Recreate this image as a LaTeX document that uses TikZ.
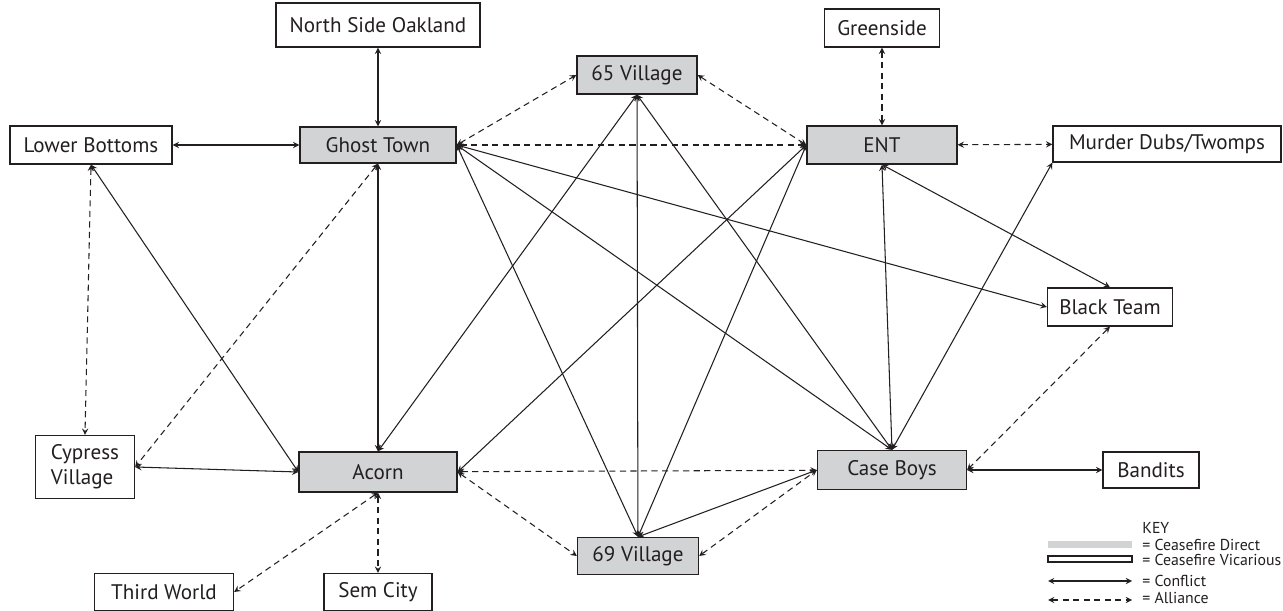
\documentclass[tikz,border=0pt]{standalone}
\usepackage{fontspec}
\setmainfont{PT Sans}
\usetikzlibrary{arrows}
\definecolor{inkblack}{HTML}{231F20}
\definecolor{truceGrey}{HTML}{D1D3D4}
\tikzstyle{gang} = [rectangle,
minimum height=0.76cm,
inner sep=0pt,
text centered,
draw=inkblack,
line width=0.75pt,
fill=white,
text=inkblack,
font=\fontsize{12}{14}\selectfont]
\tikzstyle{truce} = [gang, fill=truceGrey]
\tikzstyle{conflict} = [draw=inkblack, line width=0.6pt, <->, >=stealth]
\tikzstyle{alliance} = [conflict, dash pattern=on 3.5pt off 2.5pt]
\tikzstyle{keytext} = [anchor=west, inner sep=0pt, text=inkblack, font=\fontsize{9}{11}\selectfont]

\begin{document}
\begin{tikzpicture}[node distance=2.4cm]
\useasboundingbox (-7.56,2.9) rectangle (18.1,-9.32);

\node (ghost) [truce, minimum width=3.12cm, minimum height=0.72cm] {Ghost Town};
\node (nso) [gang, above of=ghost, minimum width=4.08cm, minimum height=0.88cm] {North Side Oakland};
\node (lower) [gang, left of=ghost, xshift=-3.34cm, minimum width=3.24cm] {Lower Bottoms};
\node (acorn) [truce, below of=ghost, yshift=-4.14cm, minimum width=3.16cm, minimum height=0.8cm] {Acorn};
\node (cypress) [gang, left of=acorn, xshift=-3.46cm, yshift=0.1cm, minimum width=1.98cm, minimum height=1.26cm, align=left] {Cypress\\Village};
\node (third) [gang, below of=acorn, xshift=-4.28cm, minimum width=2.78cm, minimum height=0.74cm] {Third World};
\node (sem) [gang, below of=acorn, minimum width=2.16cm, minimum height=0.74cm] {Sem City};
\node (v65) [truce, right of=ghost, xshift=2.78cm, yshift=1.4cm, minimum width=2.4cm] {65 Village};
\node (ent) [truce, right of=ghost, xshift=7.68cm, minimum width=3cm] {ENT};
\node (green) [gang, above of=ent, yshift=-0.06cm, minimum width=2.3cm] {Greenside};
\node (murder) [gang, right of=ent, xshift=3.3cm, yshift=0.02cm, minimum width=4.56cm, minimum height=0.72cm] {Murder Dubs/Twomps};
\node (black) [gang, right of=ent, xshift=2.16cm, yshift=-3.24cm, minimum width=2.5cm] {Black Team};
\node (case) [truce, right of=acorn, xshift=7.88cm, yshift=0.04cm, minimum width=2.98cm, minimum height=0.78cm] {Case Boys};
\node (bandits) [gang, right of=case, xshift=2.78cm, minimum width=1.92cm, minimum height=0.72cm] {Bandits};
\node (v69) [truce, right of=acorn, xshift=2.8cm, yshift=-1.68cm, minimum width=2.42cm, minimum height=0.74cm] {69 Village};

% conflict
\draw [conflict] (nso) -- (ghost);
\draw [conflict] (lower) -- (ghost);
\draw [conflict] (lower.south) -- (acorn.west);
\draw [conflict] (ghost) -- (acorn);
\draw [conflict] (cypress.east) -- (acorn.west);
\draw [conflict] (ghost.east) -- (black.west);
\draw [conflict] (ghost.east) -- (case.north);
\draw [conflict] (ghost.east) -- (v69.north);
\draw [conflict] (v65.south) -- (acorn.north);
\draw [conflict] (v65) -- (v69);
\draw [conflict] (v65.south) -- (case.north);
\draw [conflict] (ent.west) -- (acorn.east);
\draw [conflict] (ent.west) -- (v69.north);
\draw [conflict] (ent.south) -- (case.north);
\draw [conflict] (ent.south) -- (black.north);
\draw [conflict] (murder.south west) -- (case.north);
\draw [conflict] (case) -- (bandits);
\draw [conflict] (v69.north) -- (case.west);

% alliance
\draw [alliance] (green) -- (ent);
\draw [alliance] (ent) -- (murder);
\draw [alliance] (ghost) -- (ent);
\draw [alliance] (ghost.east) -- (v65.west);
\draw [alliance] (v65.east) -- (ent.west);
\draw [alliance] (lower.south) -- (cypress.north);
\draw [alliance] (ghost.south) -- (cypress.east);
\draw [alliance] (acorn) -- (case);
\draw [alliance] (acorn.east) -- (v69.west);
\draw [alliance] (v69.east) -- (case.west);
\draw [alliance] (acorn.south) -- (third.east);
\draw [alliance] (acorn) -- (sem);
\draw [alliance] (black.south) -- (case.east);

% key
\node (keytitle) [keytext] at (15.28,-7.66) {KEY};
\node (bardirect) [fill=truceGrey, minimum width=1.68cm, minimum height=0.14cm, inner sep=0pt] at (14.24,-8.0) {};
\node (keydirect) [keytext] at (15.28,-8.0) {= Ceasefire Direct};
\node (barvicar) [draw=inkblack, line width=0.75pt, minimum width=1.68cm, minimum height=0.12cm, inner sep=0pt] at (14.24,-8.28) {};
\node (keyvicar) [keytext] at (15.28,-8.3) {= Ceasefire Vicarious};
\coordinate (confa) at (13.4,-8.72);
\coordinate (confb) at (15.08,-8.72);
\draw [conflict] (confa) -- (confb);
\node (keyconf) [keytext] at (15.28,-8.72) {= Conflict};
\coordinate (alla) at (13.4,-9.1);
\coordinate (allb) at (15.08,-9.1);
\draw [alliance] (alla) -- (allb);
\node (keyall) [keytext] at (15.28,-9.06) {= Alliance};

\end{tikzpicture}
\end{document}
